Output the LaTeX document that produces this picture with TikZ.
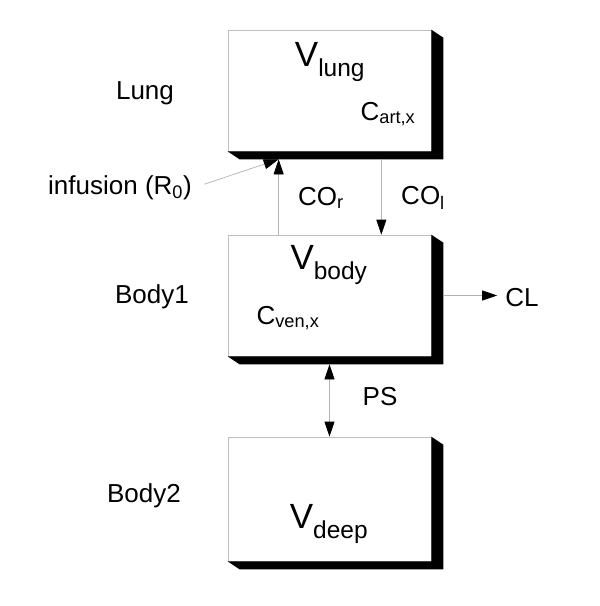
\documentclass[tikz,border=0pt]{standalone}
\usepackage{fontspec}
\setmainfont{Liberation Sans}
\usepackage{tikz}
\usetikzlibrary{arrows.meta,positioning}
\tikzset{
  compart/.style={draw=black!25, line width=0.7pt, fill=white, minimum width=203pt, minimum height=121pt, inner sep=0pt},
  vol/.style={font=\fontsize{35}{40}\selectfont, inner sep=1pt},
  conc/.style={font=\fontsize{26}{30}\selectfont, inner sep=1pt},
  lbl/.style={font=\fontsize{26}{30}\selectfont, inner sep=1pt},
  flow/.style={draw=black!30, line width=0.7pt, -{Triangle[length=15pt,width=10pt,color=black]}},
  flowboth/.style={draw=black!30, line width=0.7pt, {Triangle[length=15pt,width=10pt,color=black]}-{Triangle[length=15pt,width=10pt,color=black]}}
}
\newcommand{\boxshade}[1]{%
  \fill[black] (#1.south west) -- ([shift={(12,8)}]#1.south west) -- ([shift={(12,8)}]#1.south east)
    -- ([shift={(12,8)}]#1.north east) -- (#1.north east) -- (#1.south east) -- cycle;}

\begin{document}
\begin{tikzpicture}[x=1pt, y=-1pt]
\useasboundingbox[fill=white] (0,0) rectangle (600,606);
% compartments
\node[compart] (lung) at (329.5,90.5) {}; \boxshade{lung}
\node[compart] (body) at (329.5,295.5) {}; \boxshade{body}
\node[compart, minimum height=124pt] (deep) at (329.5,499) {}; \boxshade{deep}
\node[vol] (vlung) at (330,62) {V\textsubscript{lung}};
\node[conc] (cart) at (388,114) {C\textsubscript{art,x}};
\node[vol] (vbody) at (329,265) {V\textsubscript{body}};
\node[conc] (cven) at (288,318) {C\textsubscript{ven,x}};
\node[vol] (vdeep) at (329,524) {V\textsubscript{deep}};
% side labels
\node[lbl] (llung) at (145,93) {Lung};
\node[lbl] (lbody1) at (152,297) {Body1};
\node[lbl] (lbody2) at (144,496) {Body2};
\node[lbl] (inf) at (120,188) {infusion (R\textsubscript{0})};
\node[lbl] (cor) at (321,198) {CO\textsubscript{r}};
\node[lbl] (col) at (423,198) {CO\textsubscript{l}};
\node[lbl] (cl) at (522,298) {CL};
\node[lbl] (ps) at (380,397) {PS};
% flows
\draw[flow] ([xshift=51pt]body.north west) -- ([xshift=51pt,yshift=-8pt]lung.south west);
\draw[flow, shorten <=12pt] (inf.east) -- ([xshift=51pt,yshift=-8pt]lung.south west);
\draw[flow] ([xshift=-50pt,yshift=-8pt]lung.south east) -- ([xshift=-50pt]body.north east);
\draw[flow, shorten >=7pt] ([xshift=12pt]body.east) -- (body.east -| cl.west);
\draw[flowboth] ([yshift=-8pt]body.south) -- (deep.north);
\end{tikzpicture}
\end{document}
